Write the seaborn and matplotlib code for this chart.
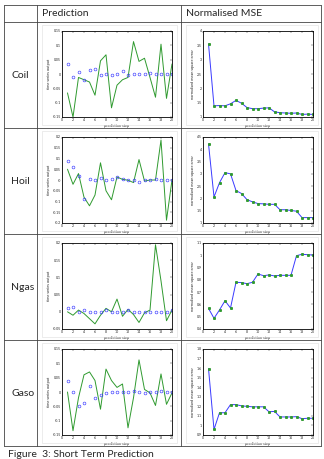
import numpy as np
import pandas as pd
import matplotlib
matplotlib.use("Agg")
import matplotlib.pyplot as plt
import seaborn as sns
from matplotlib.lines import Line2D
from matplotlib.patches import Rectangle

sns.set_style("white")
plt.rcParams['font.family'] = ['Lato', 'DejaVu Sans']

steps = list(range(1, 21))
series_names = ["Coil", "Hoil", "Ngas", "Gaso"]

# actual (green line) and predicted (blue circles) outputs per series
coil_actual = [-0.066, -0.15, -0.012, -0.02, -0.028, -0.074, 0.046, 0.067, -0.118, -0.039,
               -0.02, -0.012, 0.113, 0.044, 0.055, -0.012, -0.081, 0.104, -0.085, 0.035]
coil_pred = [0.035, -0.01, 0.006, -0.02, 0.015, 0.018, -0.002, 0.001, -0.004, 0.001,
             0.009, -0.002, 0.0, 0.0, 0.0, 0.005, 0.0, 0.0, 0.0, 0.0]
hoil_actual = [0.05, -0.02, 0.03, -0.08, -0.12, -0.07, 0.08, -0.05, -0.092, 0.014,
               0.003, -0.001, -0.012, 0.095, -0.005, 0.0, 0.0, 0.186, -0.187, 0.0]
hoil_pred = [0.09, 0.06, 0.02, -0.09, 0.005, 0.0, 0.01, 0.0, 0.005, 0.015,
             0.005, 0.0, 0.0, -0.01, 0.0, 0.0, 0.005, 0.0, 0.0, 0.0]
ngas_actual = [0.0, -0.01, 0.005, -0.005, -0.02, -0.035, -0.01, 0.01, 0.0, 0.037,
               -0.013, 0.007, -0.008, -0.031, -0.003, 0.005, 0.195, 0.09, -0.026, 0.005]
ngas_pred = [0.01, 0.015, 0.0, 0.005, 0.0, 0.0, 0.0, 0.005, 0.0, 0.0,
             0.0, 0.005, 0.0, 0.0, 0.0, 0.0, 0.0, 0.0, 0.0, 0.005]
gaso_actual = [0.0, -0.135, -0.02, 0.06, 0.07, 0.04, -0.06, 0.08, 0.04, 0.016,
               0.028, -0.125, -0.02, 0.112, 0.009, -0.003, -0.047, 0.063, -0.043, -0.003]
gaso_pred = [0.04, 0.0, -0.05, -0.04, 0.02, -0.02, -0.01, -0.005, 0.0, 0.0,
             0.0, 0.0, 0.005, 0.0, -0.005, 0.0, 0.0, 0.005, 0.0, 0.0]

# normalised mean square error per step
coil_mse = [3.55, 1.39, 1.40, 1.39, 1.46, 1.58, 1.48, 1.33, 1.29, 1.29,
            1.31, 1.32, 1.18, 1.15, 1.14, 1.13, 1.14, 1.09, 1.10, 1.09]
hoil_mse = [4.22, 2.06, 2.64, 3.05, 3.0, 2.32, 2.2, 1.95, 1.86, 1.79,
            1.78, 1.76, 1.76, 1.54, 1.54, 1.51, 1.48, 1.22, 1.22, 1.22]
ngas_mse = [0.568, 0.487, 0.555, 0.63, 0.571, 0.78, 0.778, 0.769, 0.78, 0.848,
            0.834, 0.84, 0.832, 0.837, 0.837, 0.837, 0.997, 1.008, 1.005, 1.002]
gaso_mse = [1.595, 0.958, 1.133, 1.133, 1.218, 1.218, 1.205, 1.2, 1.195, 1.195,
            1.195, 1.143, 1.147, 1.089, 1.089, 1.089, 1.092, 1.071, 1.075, 1.075]

pred_ylims = [(-0.15, 0.15, 0.05), (-0.2, 0.2, 0.05), (-0.05, 0.2, 0.05), (-0.15, 0.15, 0.05)]
mse_ylims = [(1, 4, 0.5), (1, 4.5, 0.5), (0.4, 1.1, 0.1), (0.9, 1.8, 0.1)]

actuals = [coil_actual, hoil_actual, ngas_actual, gaso_actual]
preds = [coil_pred, hoil_pred, ngas_pred, gaso_pred]
mses = [coil_mse, hoil_mse, ngas_mse, gaso_mse]

W, H = 324, 459
fig = plt.figure(figsize=(W / 100, H / 100), dpi=100)
fig.patch.set_facecolor("white")


def px_rect(x0, y0, x1, y1):
    return [x0 / W, 1 - y1 / H, (x1 - x0) / W, (y1 - y0) / H]


def hline(y, x0, x1, **kw):
    fig.add_artist(Line2D([x0 / W, x1 / W], [1 - y / H, 1 - y / H], **kw))


def vline(x, y0, y1, **kw):
    fig.add_artist(Line2D([x / W, x / W], [1 - y0 / H, 1 - y1 / H], **kw))


# table grid
row_bounds = [5, 22, 128, 234, 340, 446]
col_bounds = [4, 37, 181, 321]
for y in row_bounds:
    hline(y, col_bounds[0], col_bounds[-1], color="#444444", lw=0.6)
for x in col_bounds:
    vline(x, row_bounds[0], row_bounds[-1], color="#444444", lw=0.6)

fig.text(42 / W, 1 - 14 / H, "Prediction", fontsize=7.5, va="center", ha="left")
fig.text(186 / W, 1 - 14 / H, "Normalised MSE", fontsize=7.5, va="center", ha="left")
fig.text(8 / W, 1 - 450 / H, "Figure  3: Short Term Prediction", fontsize=7.5,
         va="top", ha="left")


def style_axes(ax, lims, xlabel, ylabel):
    lo, hi, st = lims
    ticks = np.round(np.arange(lo, hi + st / 2, st), 3)
    ax.set_xlim(0, 20)
    ax.set_xticks(range(0, 21, 2))
    ax.set_ylim(lo, hi)
    ax.set_yticks(ticks)
    ax.set_yticklabels([f"{v:g}" for v in ticks])
    ax.tick_params(direction="in", top=True, right=True, labelsize=2.5, length=1.5,
                   width=0.3, pad=1)
    for s in ax.spines.values():
        s.set_color("black")
        s.set_linewidth(0.6)
    ax.set_xlabel(xlabel, fontsize=2.8, labelpad=1)
    ax.set_ylabel(ylabel, fontsize=2.8, labelpad=1)
    ax.set_facecolor("white")


for i, name in enumerate(series_names):
    top = row_bounds[i + 1]
    fig.text(11 / W, 1 - (top + 53) / H, name, fontsize=7.5, va="center", ha="left")

    # image frames
    for fx0, fx1 in [(42, 177), (186, 318)]:
        fig.add_artist(Rectangle((fx0 / W, 1 - (top + 103) / H), (fx1 - fx0) / W,
                                 100 / H, fill=False, edgecolor="#dddddd", lw=0.4))

    df = pd.DataFrame({"step": steps, "actual": actuals[i], "pred": preds[i], "mse": mses[i]})

    ax = fig.add_axes(px_rect(62, top + 9, 172, top + 95))
    sns.lineplot(data=df, x="step", y="actual", ax=ax, color="#2f9a2f", lw=0.7)
    sns.lineplot(data=df, x="step", y="pred", ax=ax, marker="o", linestyle="",
                 markerfacecolor="none", markeredgecolor="#3a3aff", markeredgewidth=0.45,
                 markersize=2.0)
    style_axes(ax, pred_ylims[i], "prediction step", "time series output")

    ax2 = fig.add_axes(px_rect(203, top + 9, 313, top + 95))
    sns.lineplot(data=df, x="step", y="mse", ax=ax2, color="#3a3aff", lw=0.7,
                 marker="s", markersize=1.3, markerfacecolor="#2f9a2f",
                 markeredgecolor="#2f9a2f")
    style_axes(ax2, mse_ylims[i], "prediction step", "normalised mean square error")

fig.savefig("out.png", dpi=100, facecolor="white")
